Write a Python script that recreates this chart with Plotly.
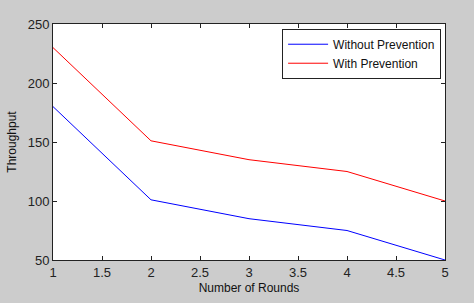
import plotly.graph_objects as go

rounds = [1, 2, 3, 4, 5]
without_prevention = [180, 101, 85, 75, 50]
with_prevention = [230, 151, 135, 125, 100]
x_ticks = [1, 1.5, 2, 2.5, 3, 3.5, 4, 4.5, 5]
y_ticks = [50, 100, 150, 200, 250]

fig = go.Figure()
fig.add_trace(go.Scatter(x=rounds, y=without_prevention, mode="lines",
                         name="Without Prevention", line=dict(color="#0000ff", width=1)))
fig.add_trace(go.Scatter(x=rounds, y=with_prevention, mode="lines",
                         name="With Prevention", line=dict(color="#ff0000", width=1)))

axis_common = dict(showgrid=False, zeroline=False, showline=True, linecolor="#222222",
                   linewidth=1, mirror="ticks", ticks="inside", ticklen=4, tickcolor="#222222",
                   automargin=False,
                   tickfont=dict(family="Liberation Sans, Arial", size=13, color="#222222"))
fig.update_xaxes(range=[1, 5], tickvals=x_ticks, ticktext=[str(v) for v in x_ticks],
                 title=dict(text="Number of Rounds", standoff=5,
                            font=dict(family="Liberation Sans, Arial", size=12, color="#111111")),
                 **axis_common)
fig.update_yaxes(range=[50, 250], tickvals=y_ticks,
                 title=dict(text="Throughput", standoff=8,
                            font=dict(family="Liberation Sans, Arial", size=12, color="#111111")),
                 **axis_common)

fig.update_layout(
    width=474, height=303,
    margin=dict(l=53, r=29, t=24, b=43, autoexpand=False),
    paper_bgcolor="#cccccc", plot_bgcolor="#ffffff",
    showlegend=True,
    legend=dict(x=0.99, y=0.98, xanchor="right", yanchor="top",
                bgcolor="#ffffff", bordercolor="#222222", borderwidth=1,
                font=dict(family="Liberation Sans, Arial", size=12, color="#111111"),
                tracegroupgap=0, itemwidth=40),
)
fig.write_html("out.html", config={"displayModeBar": False},
               post_script="document.body.style.margin='0px';document.body.style.background='#cccccc';")
